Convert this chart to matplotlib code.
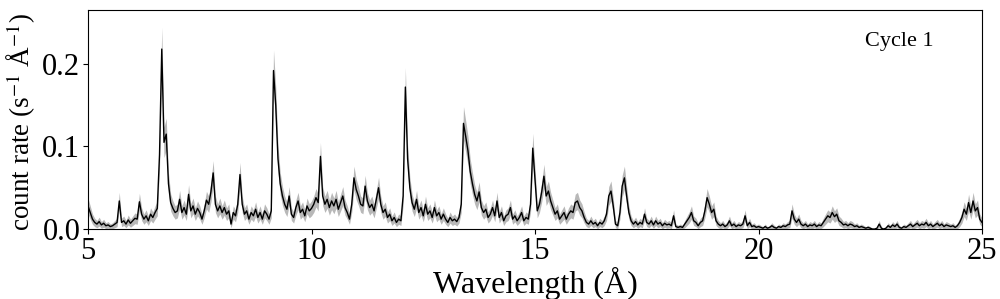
import numpy as np
import matplotlib
matplotlib.use("Agg")
import matplotlib.pyplot as plt

# wavelength grid of the binned spectrum (Angstrom), 0.05 A bins
wl_start = 5.0
wl_step = 0.05

# count rate per bin (s^-1 A^-1), one row per Angstrom
rate = [
    # 5.00 - 5.95
    0.028, 0.020, 0.012, 0.008, 0.006, 0.009, 0.005, 0.007, 0.004, 0.005,
    0.003, 0.004, 0.006, 0.008, 0.034, 0.008, 0.010, 0.006, 0.011, 0.007,
    # 6.00 - 6.95
    0.010, 0.013, 0.012, 0.033, 0.018, 0.012, 0.016, 0.010, 0.018, 0.014,
    0.020, 0.025, 0.090, 0.218, 0.105, 0.115, 0.055, 0.032, 0.025, 0.020,
    # 7.00 - 7.95
    0.022, 0.036, 0.020, 0.026, 0.018, 0.042, 0.022, 0.028, 0.018, 0.025,
    0.020, 0.012, 0.022, 0.035, 0.030, 0.045, 0.068, 0.030, 0.022, 0.028,
    # 8.00 - 8.95
    0.020, 0.026, 0.018, 0.022, 0.006, 0.020, 0.016, 0.030, 0.066, 0.030,
    0.018, 0.022, 0.012, 0.020, 0.016, 0.024, 0.014, 0.020, 0.012, 0.022,
    # 9.00 - 9.95
    0.018, 0.012, 0.022, 0.192, 0.150, 0.085, 0.055, 0.040, 0.030, 0.024,
    0.040, 0.018, 0.014, 0.026, 0.034, 0.020, 0.024, 0.016, 0.028, 0.022,
    # 10.00 - 10.95
    0.025, 0.030, 0.038, 0.032, 0.088, 0.040, 0.030, 0.036, 0.026, 0.034,
    0.028, 0.036, 0.024, 0.032, 0.040, 0.026, 0.020, 0.012, 0.030, 0.062,
    # 11.00 - 11.95
    0.048, 0.040, 0.030, 0.028, 0.052, 0.034, 0.026, 0.030, 0.022, 0.036,
    0.050, 0.030, 0.020, 0.024, 0.014, 0.018, 0.010, 0.014, 0.008, 0.012,
    # 12.00 - 12.95
    0.010, 0.040, 0.172, 0.085, 0.050, 0.032, 0.024, 0.036, 0.020, 0.026,
    0.016, 0.030, 0.018, 0.022, 0.014, 0.026, 0.016, 0.020, 0.012, 0.018,
    # 13.00 - 13.95
    0.012, 0.008, 0.014, 0.010, 0.012, 0.009, 0.014, 0.030, 0.128, 0.112,
    0.095, 0.070, 0.055, 0.042, 0.034, 0.045, 0.026, 0.020, 0.024, 0.014,
    # 14.00 - 14.95
    0.018, 0.026, 0.016, 0.034, 0.014, 0.020, 0.010, 0.016, 0.018, 0.026,
    0.012, 0.016, 0.010, 0.014, 0.020, 0.010, 0.014, 0.012, 0.030, 0.098,
    # 15.00 - 15.95
    0.060, 0.022, 0.030, 0.045, 0.064, 0.040, 0.046, 0.034, 0.026, 0.018,
    0.022, 0.012, 0.016, 0.020, 0.012, 0.018, 0.022, 0.020, 0.032, 0.034,
    # 16.00 - 16.95
    0.026, 0.022, 0.014, 0.008, 0.006, 0.010, 0.006, 0.008, 0.004, 0.008,
    0.006, 0.010, 0.018, 0.040, 0.046, 0.028, 0.006, 0.004, 0.020, 0.052,
    # 17.00 - 17.95
    0.062, 0.040, 0.020, 0.010, 0.006, 0.009, 0.005, 0.008, 0.006, 0.018,
    0.008, 0.006, 0.010, 0.005, 0.010, 0.006, 0.008, 0.004, 0.007, 0.005,
    # 18.00 - 18.95
    0.006, 0.004, 0.016, 0.003, 0.002, 0.003, 0.002, 0.006, 0.010, 0.014,
    0.020, 0.010, 0.008, 0.004, 0.008, 0.010, 0.022, 0.038, 0.030, 0.020,
    # 19.00 - 19.95
    0.024, 0.010, 0.006, 0.004, 0.006, 0.003, 0.005, 0.010, 0.004, 0.006,
    0.003, 0.005, 0.004, 0.006, 0.016, 0.004, 0.008, 0.003, 0.004, 0.002,
    # 20.00 - 20.95
    0.003, 0.002, 0.001, 0.003, 0.001, 0.002, 0.004, 0.002, 0.001, 0.003,
    0.002, 0.004, 0.003, 0.005, 0.006, 0.022, 0.012, 0.008, 0.012, 0.006,
    # 21.00 - 21.95
    0.004, 0.006, 0.003, 0.005, 0.004, 0.006, 0.003, 0.005, 0.004, 0.008,
    0.012, 0.016, 0.014, 0.020, 0.015, 0.018, 0.010, 0.008, 0.005, 0.006,
    # 22.00 - 22.95
    0.004, 0.006, 0.005, 0.003, 0.004, 0.002, 0.003, 0.002, 0.001, 0.002,
    0.001, 0.000, 0.000, 0.001, 0.006, 0.001, 0.000, 0.001, 0.004, 0.002,
    # 23.00 - 23.95
    0.005, 0.003, 0.006, 0.002, 0.001, 0.003, 0.002, 0.004, 0.006, 0.003,
    0.005, 0.007, 0.004, 0.006, 0.005, 0.008, 0.004, 0.006, 0.003, 0.005,
    # 24.00 - 25.00
    0.007, 0.004, 0.006, 0.003, 0.005, 0.004, 0.003, 0.004, 0.002, 0.004,
    0.008, 0.014, 0.024, 0.018, 0.032, 0.020, 0.034, 0.022, 0.026, 0.012,
    0.008,
]

# counts per bin = rate * exposure * bin width; poisson sigma from that
counts_per_rate = 308.0

x_ticks = [5, 10, 15, 20, 25]
y_ticks = [0.0, 0.1, 0.2]
label_text = "Cycle 1"

rate = np.array(rate)
wl = wl_start + wl_step * np.arange(len(rate))
err = np.sqrt(rate * counts_per_rate) / counts_per_rate

plt.rcParams["font.family"] = ["Liberation Serif", "DejaVu Serif"]
plt.rcParams["mathtext.fontset"] = "stix"

fig = plt.figure(figsize=(10, 2.99), dpi=100)
ax = fig.add_axes([0.088, 0.234, 0.894, 0.733])

ax.fill_between(wl, np.clip(rate - err, 0, None), rate + err,
                color="#b8b8b8", linewidth=0)
ax.plot(wl, rate, color="black", linewidth=1.0)

ax.set_xlim(5, 25)
ax.set_ylim(0, 0.2655)
ax.set_xticks(x_ticks)
ax.set_yticks(y_ticks)
ax.set_yticklabels([f"{v:.1f}" for v in y_ticks])
ax.tick_params(labelsize=22, length=3.5, width=0.8, pad=2)
for s in ax.spines.values():
    s.set_linewidth(0.8)

ax.set_xlabel("Wavelength (Å)", fontsize=23, labelpad=1)
ax.set_ylabel("count rate (s$^{-1}$ Å$^{-1}$)", fontsize=19.5, labelpad=0)
ax.yaxis.set_label_coords(-0.056, 0.49)
ax.text(0.869, 0.855, label_text, transform=ax.transAxes,
        fontsize=16, ha="left", va="center")

fig.savefig("out.png", dpi=100)
